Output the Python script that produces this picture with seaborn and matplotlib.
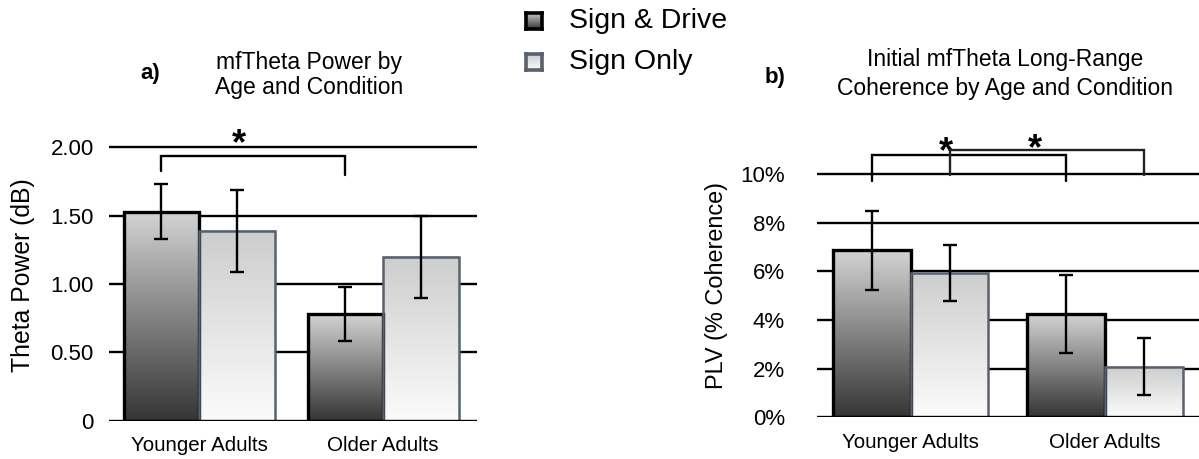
import matplotlib
matplotlib.use("Agg")
import matplotlib.pyplot as plt
import numpy as np
import pandas as pd
import seaborn as sns
from matplotlib.colors import LinearSegmentedColormap
from matplotlib.ticker import FuncFormatter

# categories and conditions
groups = ["Younger Adults", "Older Adults"]
conditions = ["Sign & Drive", "Sign Only"]

# a) mfTheta power (dB), bar heights and error bar half-lengths
theta_drive = [1.53, 0.78]
theta_only = [1.39, 1.20]
theta_drive_err = [0.20, 0.20]
theta_only_err = [0.30, 0.30]
theta_ticks = [0, 0.5, 1.0, 1.5, 2.0]
theta_ticklabels = ["0", "0.50", "1.00", "1.50", "2.00"]

# b) long-range coherence (PLV, %)
plv_drive = [6.86, 4.23]
plv_only = [5.93, 2.08]
plv_drive_err = [1.61, 1.60]
plv_only_err = [1.17, 1.17]
plv_ticks = [0, 2, 4, 6, 8, 10]

W, H = 1199, 459

sns.set_theme(style="white")
plt.rcParams["font.family"] = ["Liberation Sans", "DejaVu Sans"]
plt.rcParams["text.color"] = "black"
plt.rcParams["axes.labelcolor"] = "black"

drive_cmap = LinearSegmentedColormap.from_list("drive", ["#d3d3d3", "#353535"])
only_cmap = LinearSegmentedColormap.from_list("only", ["#cdcdcd", "#fbfbfb"])
styles = {
    "Sign & Drive": dict(cmap=drive_cmap, edge="#000000", lw=2.4),
    "Sign Only": dict(cmap=only_cmap, edge="#58616c", lw=1.8),
}
grad = np.linspace(0, 1, 256).reshape(-1, 1)


def px_axes(fig, left, right, bottom, top):
    """axes from pixel edges (y measured from the top)"""
    return fig.add_axes([left / W, 1 - bottom / H, (right - left) / W, (bottom - top) / H])


def make_frame(drive, only, drive_err, only_err):
    return pd.DataFrame({
        "group": groups * 2,
        "condition": [conditions[0]] * 2 + [conditions[1]] * 2,
        "value": drive + only,
        "err": drive_err + only_err,
    })


def draw_panel(ax, df, width, gridlines, ylim, xlim):
    sns.barplot(data=df, x="group", y="value", hue="condition", order=groups,
                hue_order=conditions, width=width, errorbar=None, legend=False,
                ax=ax, zorder=3)
    centers = {}
    for cond, container in zip(conditions, ax.containers):
        st = styles[cond]
        sub = df[df["condition"] == cond]
        for bar, (_, row) in zip(container, sub.iterrows()):
            x0, w, h = bar.get_x(), bar.get_width(), bar.get_height()
            # vertical gradient fill
            ax.imshow(grad, extent=[x0, x0 + w, 0, h], origin="upper", cmap=st["cmap"],
                      aspect="auto", zorder=2.5)
            bar.set_facecolor("none")
            bar.set_edgecolor(st["edge"])
            bar.set_linewidth(st["lw"])
            ax.errorbar(x0 + w / 2, h, yerr=row["err"], fmt="none", ecolor="black",
                        elinewidth=1.7, capsize=5, capthick=1.7, zorder=5)
            centers[(cond, row["group"])] = x0 + w / 2
    for y in gridlines:
        ax.axhline(y, color="black", lw=1.7, zorder=1 if y > 0 else 4)
    ax.set_xlim(*xlim)
    ax.set_ylim(*ylim)
    ax.set_yticks(gridlines)
    sns.despine(ax=ax, left=True, bottom=True)
    ax.tick_params(length=0, colors="black")
    ax.tick_params(axis="y", labelsize=16)
    ax.tick_params(axis="x", labelsize=14.8, pad=11)
    ax.set_xlabel("")
    return centers


def bracket(ax, x1, x2, top, leg1, leg2, color="black"):
    ax.plot([x1, x1, x2, x2], [leg1, top, top, leg2], color=color, lw=1.7,
            solid_joinstyle="miter", zorder=6, clip_on=False)


def star(ax, x, y):
    ax.text(x, y, "*", ha="center", va="baseline", fontsize=26, fontweight="bold")


fig = plt.figure(figsize=(W / 100, H / 100), dpi=100)

# ---- panel a ----
ax_a = px_axes(fig, 109, 477, 420.7, 420.7 - 2.3 * 136.7)
df_a = make_frame(theta_drive, theta_only, theta_drive_err, theta_only_err)
ca = draw_panel(ax_a, df_a, 0.82, theta_ticks, (0, 2.3), (-0.49, 1.51))
ax_a.set_yticklabels(theta_ticklabels)
ax_a.tick_params(axis="y", pad=11)
ax_a.set_ylabel("Theta Power (dB)", fontsize=17.8)
ax_a.yaxis.set_label_coords(-0.201, 0.463)
xa1 = ca[("Sign & Drive", "Younger Adults")]
xa2 = ca[("Sign & Drive", "Older Adults")]
bracket(ax_a, xa1, xa2, 1.94, 1.83, 1.80)
star(ax_a, xa1 + 0.42 * (xa2 - xa1), 1.95)

# ---- panel b ----
ax_b = px_axes(fig, 816.7, 1199, 417.3, 417.3 - 12 * 24.33)
df_b = make_frame(plv_drive, plv_only, plv_drive_err, plv_only_err)
cb = draw_panel(ax_b, df_b, 0.8, plv_ticks, (0, 12), (-0.484, 1.484))
ax_b.yaxis.set_major_formatter(FuncFormatter(lambda v, p: f"{v:.0f}%"))
ax_b.tick_params(axis="y", pad=23)
ax_b.set_ylabel("PLV (% Coherence)", fontsize=16.9)
ax_b.yaxis.set_label_coords(-0.232, 0.453)
xb1 = cb[("Sign & Drive", "Younger Adults")]
xb3 = cb[("Sign & Drive", "Older Adults")]
xb2 = cb[("Sign Only", "Younger Adults")]
xb4 = cb[("Sign Only", "Older Adults")]
bracket(ax_b, xb1, xb3, 10.8, 9.7, 9.7)
bracket(ax_b, xb2, xb4, 11.0, 9.95, 9.95, color="#222222")
star(ax_b, xb1 + 0.38 * (xb3 - xb1), 10.5)
star(ax_b, xb2 + 0.44 * (xb4 - xb2), 10.62)

# ---- titles ----
fig.text(309 / W, 1 - 75 / H, "mfTheta Power by\nAge and Condition", ha="center",
         va="center", fontsize=16.5, linespacing=1.1)
fig.text(150 / W, 1 - 73 / H, "a)", ha="center", va="center", fontsize=16,
         fontweight="bold")
fig.text(1005 / W, 1 - 74 / H, "Initial mfTheta Long-Range\nCoherence by Age and Condition",
         ha="center", va="center", fontsize=16.5, linespacing=1.3)
fig.text(775 / W, 1 - 77 / H, "b)", ha="center", va="center", fontsize=16,
         fontweight="bold")

# ---- legend with gradient swatches ----
for i, cond in enumerate(conditions):
    yc = 21 + 41 * i
    sw = px_axes(fig, 526, 542, yc + 8, yc - 8)
    sw.imshow(grad, cmap=styles[cond]["cmap"], aspect="auto")
    sw.set_xticks([])
    sw.set_yticks([])
    for sp in sw.spines.values():
        sp.set_visible(True)
        sp.set_color(styles[cond]["edge"])
        sp.set_linewidth(2.6)
    fig.text(569 / W, 1 - yc / H, cond, ha="left", va="center", fontsize=20.5)

fig.savefig("out.png", dpi=100)
